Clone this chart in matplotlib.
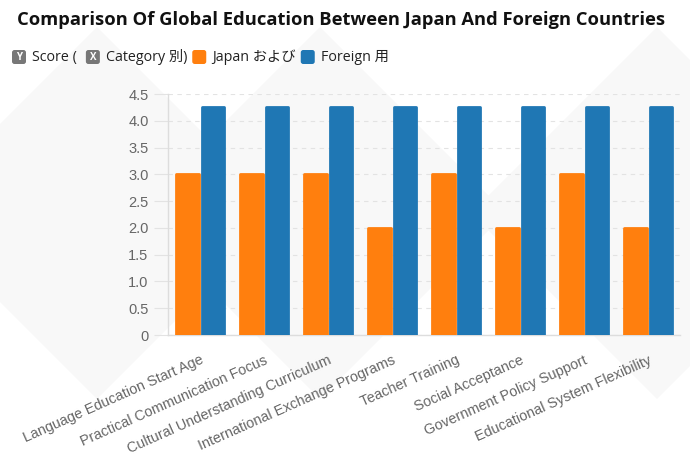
import numpy as np
import matplotlib
matplotlib.use("Agg")
import matplotlib.pyplot as plt
from matplotlib.patches import FancyBboxPatch, Polygon
from matplotlib.ticker import FuncFormatter
from matplotlib.transforms import IdentityTransform

# данные
categories = ["Language Education Start Age", "Practical Communication Focus",
              "Cultural Understanding Curriculum", "International Exchange Programs",
              "Teacher Training", "Social Acceptance", "Government Policy Support",
              "Educational System Flexibility"]
japan = [3, 3, 3, 2, 3, 2, 3, 2]
foreign = [4.25, 4.25, 4.25, 4.25, 4.25, 4.25, 4.25, 4.25]
y_ticks = [0, 0.5, 1.0, 1.5, 2.0, 2.5, 3.0, 3.5, 4.0, 4.5]

title = "Comparison Of Global Education Between Japan And Foreign Countries"
legend_items = [("box", "Y", "#777777"), ("text", "Score (", None),
                ("box", "X", "#777777"), ("text", "Category 別)", None),
                ("box", "", "#ff7f0e"), ("text", "Japan および", None),
                ("box", "", "#1f77b4"), ("text", "Foreign 用", None)]

ORANGE = "#ff7f0e"
BLUE = "#1f77b4"
W, H = 690, 469
ui_font = ["Open Sans", "Noto Sans CJK JP", "DejaVu Sans"]

fig = plt.figure(figsize=(W / 100, H / 100), dpi=100)
fig.patch.set_facecolor("white")

# фоновые ромбы (под осями)
def diamond(cx, cy, r):
    pts = [(cx, H - (cy - r)), (cx + r, H - cy), (cx, H - (cy + r)), (cx - r, H - cy)]
    return Polygon(pts, closed=True, facecolor="#f8f8f8", edgecolor="none",
                   transform=IdentityTransform(), zorder=-5)

for cx, cy, r in [(97, 213, 186), (320, 213, 186), (657, 213, 186)]:
    fig.patches.append(diamond(cx, cy, r))

ax = fig.add_axes([168 / W, 1 - 335 / H, (680 - 168) / W, (335 - 94) / H])
ax.set_zorder(1)
ax.patch.set_alpha(0)

x = np.arange(len(categories))
bw = 0.345
for xs, vals, col in [(x - 0.195, japan, ORANGE), (x + 0.2, foreign, BLUE)]:
    ax.bar(xs, vals, width=bw, color=col, edgecolor=col, linewidth=2,
           joinstyle="round", zorder=3)

ax.set_xlim(-0.5, len(categories) - 0.5)
ax.set_ylim(0, 4.5)
ax.set_yticks(y_ticks)
ax.yaxis.set_major_formatter(FuncFormatter(lambda v, p: "0" if v == 0 else f"{v:.1f}"))
ax.grid(axis="y", color="#e3e3e3", linestyle=(0, (4, 4)), linewidth=0.8, zorder=0)
ax.set_axisbelow(True)

for s in ["top", "right"]:
    ax.spines[s].set_visible(False)
for s in ["left", "bottom"]:
    ax.spines[s].set_color("#dddddd")
    ax.spines[s].set_linewidth(1)

ax.tick_params(axis="y", colors="#e3e3e3", labelcolor="#666666", length=10,
               labelsize=10.5, pad=4)
ax.tick_params(axis="x", length=0, pad=13)
for lab in ax.get_yticklabels():
    lab.set_fontfamily("Liberation Sans")

ax.set_xticks(x)
ax.set_xticklabels(categories, rotation=24, ha="right", rotation_mode="anchor",
                   color="#666666", fontsize=10.4, fontfamily="Liberation Sans")

fig.text(17 / W, 1 - 20 / H, title, fontsize=13.2, fontweight="bold",
         family=ui_font, va="center", ha="left", color="#111111")

# легенда вручную
renderer = fig.canvas.get_renderer()
cur = 12
ly = H - 57
for kind, label, col in legend_items:
    if kind == "box":
        fig.patches.append(FancyBboxPatch((cur, ly - 7), 14, 14,
                                          boxstyle="round,pad=0,rounding_size=2.5",
                                          facecolor=col, edgecolor="none",
                                          transform=IdentityTransform()))
        if label:
            fig.text((cur + 7) / W, ly / H, label, fontsize=7, fontweight="bold",
                     color="white", ha="center", va="center", family=ui_font)
        cur += 14 + 6
    else:
        t = fig.text(cur / W, ly / H, label, fontsize=10.3, color="#222222",
                     ha="left", va="center", family=ui_font)
        gap = 9 if label.endswith("(") else 5
        cur += t.get_window_extent(renderer).width + gap

fig.savefig("out.png", dpi=100)
